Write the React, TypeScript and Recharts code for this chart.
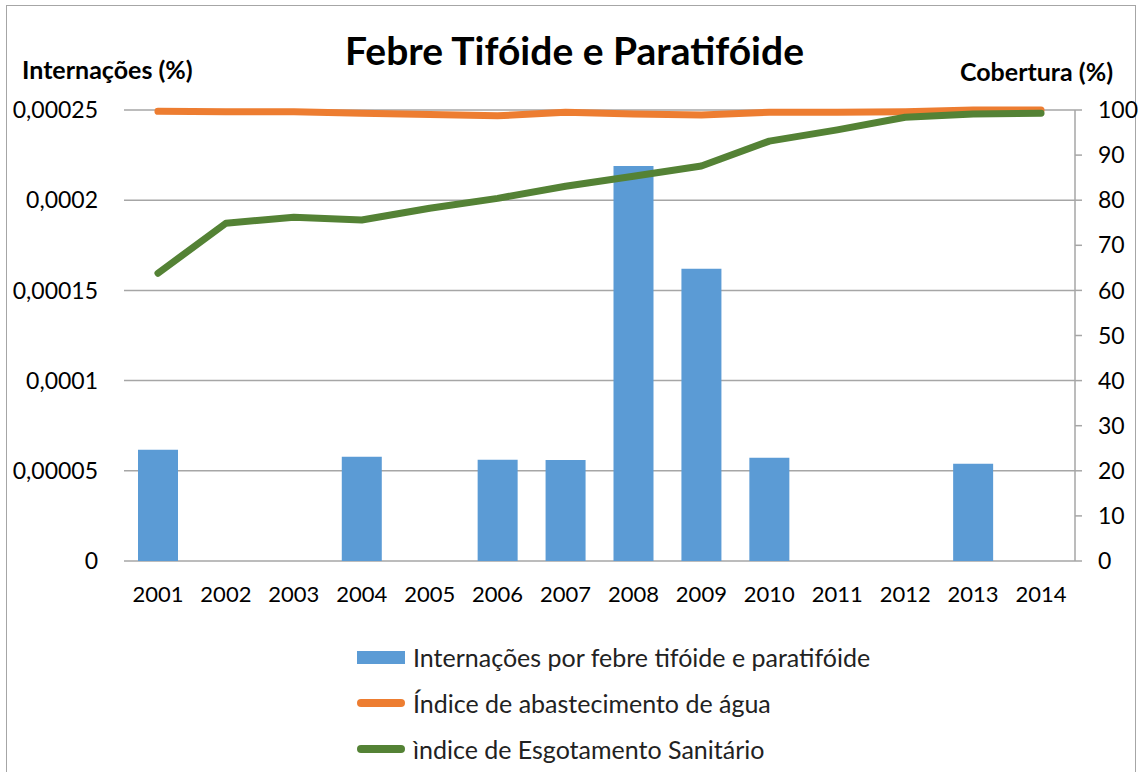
import React from 'react';
import { ComposedChart, Bar, Line, XAxis, YAxis, CartesianGrid, Legend } from 'recharts';

const years = ['2001', '2002', '2003', '2004', '2005', '2006', '2007', '2008', '2009', '2010', '2011', '2012', '2013', '2014'];
const internacoes = [0.0000617, 0, 0, 0.0000578, 0, 0.0000561, 0.000056, 0.000219, 0.000162, 0.0000572, 0, 0, 0.0000539, 0];
const agua = [99.7, 99.6, 99.6, 99.3, 99.0, 98.7, 99.5, 99.1, 98.9, 99.5, 99.5, 99.6, 100, 100];
const esgoto = [63.8, 74.9, 76.2, 75.6, 78.2, 80.4, 83.1, 85.3, 87.6, 93.1, 95.6, 98.4, 99.1, 99.3];
const leftTicks = [0, 0.00005, 0.0001, 0.00015, 0.0002, 0.00025];
const rightTicks = [0, 10, 20, 30, 40, 50, 60, 70, 80, 90, 100];

const data = years.map((year, i) => ({
  year,
  internacoes: internacoes[i],
  agua: agua[i],
  esgoto: esgoto[i],
}));

const FONT = 'Lato, "Open Sans", sans-serif';
const BLUE = '#5B9BD5';
const ORANGE = '#ED7D31';
const GREEN = '#548235';
const GRID = '#a6a6a6';

const legendItems = [
  { label: 'Internações por febre tifóide e paratifóide', color: BLUE, kind: 'bar' },
  { label: 'Índice de abastecimento de água', color: ORANGE, kind: 'line' },
  { label: 'ìndice de Esgotamento Sanitário', color: GREEN, kind: 'line' },
];

const renderLegend = () => (
  <div style={{ fontFamily: FONT, fontSize: 25, color: '#222' }}>
    {legendItems.map((item) => (
      <div key={item.label} style={{ display: 'flex', alignItems: 'center', height: 46 }}>
        {item.kind === 'bar' ? (
          <div style={{ width: 48, height: 13, background: item.color, marginRight: 8 }} />
        ) : (
          <div style={{ width: 48, height: 8, background: item.color, borderRadius: 4, marginRight: 8 }} />
        )}
        <span>{item.label}</span>
      </div>
    ))}
  </div>
);

const App: React.FC = () => {
  return (
    <div style={{ position: 'absolute', left: 0, top: 0, width: 1143, height: 772, background: '#fff', overflow: 'hidden' }}>
      <div style={{ position: 'absolute', left: 6, top: 5, width: 1128, height: 780, border: '1px solid #a6a6a6' }} />
      <div style={{ position: 'absolute', left: 0, width: 1149, top: 27, textAlign: 'center', fontFamily: FONT, fontWeight: 700, fontSize: 39, color: '#000' }}>
        Febre Tifóide e Paratifóide
      </div>
      <div style={{ position: 'absolute', left: 22, top: 54, fontFamily: FONT, fontWeight: 700, fontSize: 25, color: '#000' }}>
        Internações (%)
      </div>
      <div style={{ position: 'absolute', right: 30, top: 56, fontFamily: FONT, fontWeight: 700, fontSize: 25, color: '#000' }}>
        Cobertura (%)
      </div>
      <div style={{ position: 'absolute', left: 0, top: 0 }}>
        <ComposedChart width={1143} height={772} data={data} margin={{ top: 110, right: 0, left: 0, bottom: 33 }} barCategoryGap="41%">
          <CartesianGrid vertical={false} yAxisId="left" stroke={GRID} strokeWidth={1.5} />
          <XAxis
            dataKey="year"
            axisLine={false}
            tickLine={false}
            tickMargin={19}
            height={40}
            tick={{ fill: '#000', fontSize: 22, fontFamily: FONT }}
          />
          <YAxis
            yAxisId="left"
            orientation="left"
            width={124}
            domain={[0, 0.00025]}
            ticks={leftTicks}
            axisLine={false}
            tickLine={false}
            tickMargin={20}
            tickFormatter={(v: number) => String(v).replace('.', ',')}
            tick={{ fill: '#000', fontSize: 23, fontFamily: FONT }}
          />
          <YAxis
            yAxisId="right"
            orientation="right"
            width={68}
            domain={[0, 100]}
            ticks={rightTicks}
            axisLine={{ stroke: GRID, strokeWidth: 1.5 }}
            tickLine={{ stroke: GRID, strokeWidth: 1.5 }}
            tickSize={7}
            tickMargin={16}
            tick={{ fill: '#000', fontSize: 23, fontFamily: FONT, textAnchor: 'start' }}
          />
          <Bar yAxisId="left" dataKey="internacoes" fill={BLUE} barSize={40} isAnimationActive={false} />
          <Line yAxisId="right" type="linear" dataKey="agua" stroke={ORANGE} strokeWidth={7} strokeLinecap="round" strokeLinejoin="round" dot={false} isAnimationActive={false} />
          <Line yAxisId="right" type="linear" dataKey="esgoto" stroke={GREEN} strokeWidth={7} strokeLinecap="round" strokeLinejoin="round" dot={false} isAnimationActive={false} />
          <Legend
            layout="vertical"
            align="center"
            verticalAlign="bottom"
            content={renderLegend}
            wrapperStyle={{ position: 'absolute', left: 357, top: 634, width: 600, bottom: 'auto' }}
          />
        </ComposedChart>
      </div>
    </div>
  );
};

export default App;
